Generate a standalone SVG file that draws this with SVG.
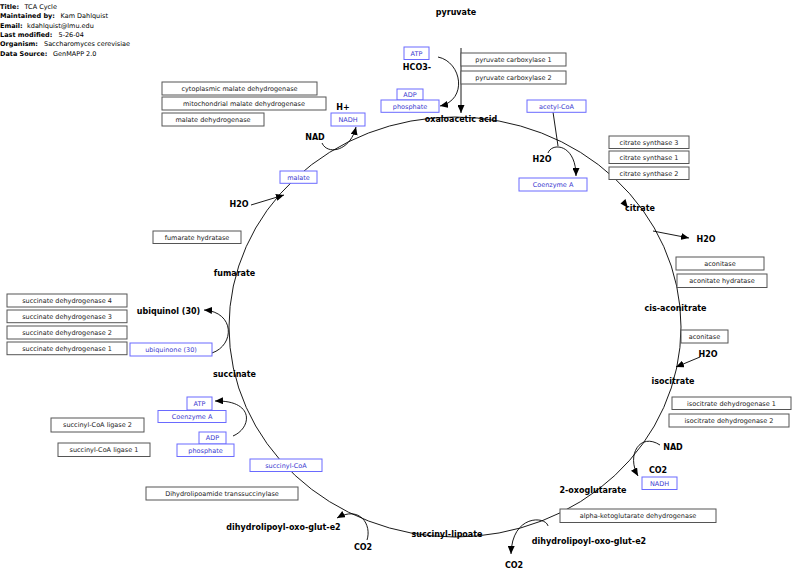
<svg xmlns="http://www.w3.org/2000/svg" width="800" height="581" viewBox="0 0 800 581">
<style>
text{font-family:"DejaVu Sans","Liberation Sans",sans-serif}
.h{font-size:6.5px;fill:#000}
.hb{font-weight:bold}
.m{font-size:8px;font-weight:bold;fill:#000;text-anchor:middle}
.g rect{fill:#fff;stroke:#555;stroke-width:1}
.g text{font-size:6.5px;fill:#222;text-anchor:middle}
.b rect{fill:#fff;stroke:#6a6aff;stroke-width:1}
.b text{font-size:6.5px;fill:#3a3ad0;text-anchor:middle}
.c path,.c line,.c ellipse{fill:none;stroke:#000;stroke-width:0.9}
</style>
<defs>
<marker id="ah" markerUnits="userSpaceOnUse" markerWidth="9" markerHeight="7" refX="8" refY="3.5" orient="auto">
<path d="M0,0 L8,3.5 L0,7 z" fill="#000"/>
</marker>
</defs>
<rect width="800" height="581" fill="#fff"/>
<g id="header">
<text class="h" x="0" y="9"><tspan class="hb">Title:</tspan></text><text class="h" x="24.5" y="9">TCA Cycle</text>
<text class="h" x="0" y="18.3"><tspan class="hb">Maintained by:</tspan></text><text class="h" x="60.5" y="18.3">Kam Dahlquist</text>
<text class="h" x="0" y="27.6"><tspan class="hb">Email:</tspan></text><text class="h" x="27" y="27.6">kdahlquist@lmu.edu</text>
<text class="h" x="0" y="36.9"><tspan class="hb">Last modified:</tspan></text><text class="h" x="58.5" y="36.9">5-26-04</text>
<text class="h" x="0" y="46.2"><tspan class="hb">Organism:</tspan></text><text class="h" x="44" y="46.2">Saccharomyces cerevisiae</text>
<text class="h" x="0" y="55.5"><tspan class="hb">Data Source:</tspan></text><text class="h" x="53" y="55.5">GenMAPP 2.0</text>
</g>
<g id="connectors" class="c">
<ellipse cx="455" cy="327" rx="226" ry="210"/>
<polygon points="628,208 620.5,203.5 625.5,199" fill="#000" stroke="none"/>
<path d="M461,48 L461,113" marker-end="url(#ah)"/>
<path d="M438,57 C462,62 468,100 440,106" marker-end="url(#ah)"/>
<path d="M322,143 C327,155 350,152 356,127" marker-end="url(#ah)"/>
<path d="M553,112 L558,146"/>
<path d="M548,153 C552,142 576,144 576,176" marker-end="url(#ah)"/>
<path d="M653,231 L689,238" marker-end="url(#ah)"/>
<path d="M700,357 L676,367" marker-end="url(#ah)"/>
<path d="M660,445 C640,432 626,455 638,476" marker-end="url(#ah)"/>
<path d="M548,526 C546,516 512,514 511,554" marker-end="url(#ah)"/>
<path d="M367,540 C372,525 360,505 337,518" marker-end="url(#ah)"/>
<path d="M212,353 C235,345 235,312 204,310" marker-end="url(#ah)"/>
<path d="M233,436 C252,428 255,400 215,401" marker-end="url(#ah)"/>
<path d="M251,205 L284,195" marker-end="url(#ah)"/>
</g>
<g id="metabolites">
<text id="pyruvate" class="m" x="456" y="14.5">pyruvate</text>
<text id="hco3" class="m" x="417" y="69.5">HCO3-</text>
<text id="oxaloacetic" class="m" x="461" y="122">oxaloacetic acid</text>
<text id="hplus" class="m" x="343" y="109.5">H+</text>
<text id="nad1" class="m" x="315" y="140">NAD</text>
<text id="h2o1" class="m" x="542" y="162">H2O</text>
<text id="citrate" class="m" x="640" y="211">citrate</text>
<text id="h2o2" class="m" x="706" y="242">H2O</text>
<text id="cisaconitrate" class="m" x="675.5" y="311">cis-aconitrate</text>
<text id="h2o3" class="m" x="708" y="357">H2O</text>
<text id="isocitrate" class="m" x="673" y="384">isocitrate</text>
<text id="nad2" class="m" x="673" y="450">NAD</text>
<text id="co2a" class="m" x="658" y="473">CO2</text>
<text id="oxoglutarate" class="m" x="593" y="493">2-oxoglutarate</text>
<text id="dlog1" class="m" x="589" y="543.5">dihydrolipoyl-oxo-glut-e2</text>
<text id="co2b" class="m" x="514" y="568">CO2</text>
<text id="succlipoate" class="m" x="447" y="537">succinyl-lipoate</text>
<text id="co2c" class="m" x="363" y="549.5">CO2</text>
<text id="dlog2" class="m" x="283.5" y="529.5">dihydrolipoyl-oxo-glut-e2</text>
<text id="succinate" class="m" x="234.5" y="377">succinate</text>
<text id="ubiquinol" class="m" x="168.5" y="313.5">ubiquinol (30)</text>
<text id="fumarate" class="m" x="234.5" y="275.5">fumarate</text>
<text id="h2o4" class="m" x="239" y="207">H2O</text>
</g>
<g id="genes" class="g">
<g id="pc1"><rect x="461" y="53" width="105" height="13"/><text x="513.5" y="61.8">pyruvate carboxylase 1</text></g>
<g id="pc2"><rect x="461" y="71" width="105" height="13"/><text x="513.5" y="79.8">pyruvate carboxylase 2</text></g>
<g id="cmd"><rect x="162" y="82" width="155" height="13"/><text x="239.5" y="90.8">cytoplasmic malate dehydrogenase</text></g>
<g id="mmd"><rect x="162" y="97" width="164" height="13"/><text x="244" y="105.8">mitochondrial malate dehydrogenase</text></g>
<g id="md"><rect x="162" y="113" width="102" height="13"/><text x="213" y="121.8">malate dehydrogenase</text></g>
<g id="cs3"><rect x="609" y="136" width="80" height="12.5"/><text x="649" y="144.6">citrate synthase 3</text></g>
<g id="cs1"><rect x="609" y="151" width="80" height="12.5"/><text x="649" y="159.6">citrate synthase 1</text></g>
<g id="cs2"><rect x="609" y="167" width="80" height="12.5"/><text x="649" y="175.6">citrate synthase 2</text></g>
<g id="aco1"><rect x="676" y="257" width="88" height="13"/><text x="720" y="265.8">aconitase</text></g>
<g id="ah1"><rect x="677" y="274" width="90" height="13.5"/><text x="722" y="283">aconitate hydratase</text></g>
<g id="aco2"><rect x="681" y="330" width="47" height="13"/><text x="704.5" y="338.8">aconitase</text></g>
<g id="idh1"><rect x="672" y="397" width="119" height="12.5"/><text x="731.5" y="405.6">isocitrate dehydrogenase 1</text></g>
<g id="idh2"><rect x="669" y="414" width="120" height="13"/><text x="729" y="422.8">isocitrate dehydrogenase 2</text></g>
<g id="akgd"><rect x="560" y="509" width="156" height="13.5"/><text x="638" y="518">alpha-ketoglutarate dehydrogenase</text></g>
<g id="sdh4"><rect x="7" y="294" width="120" height="13"/><text x="67" y="302.8">succinate dehydrogenase 4</text></g>
<g id="sdh3"><rect x="7" y="310" width="120" height="12.7"/><text x="67" y="318.7">succinate dehydrogenase 3</text></g>
<g id="sdh2"><rect x="7" y="326" width="120" height="13"/><text x="67" y="334.8">succinate dehydrogenase 2</text></g>
<g id="sdh1"><rect x="7" y="342" width="120" height="12.7"/><text x="67" y="350.7">succinate dehydrogenase 1</text></g>
<g id="scl2"><rect x="51" y="418" width="93" height="14"/><text x="97.5" y="427.3">succinyl-CoA ligase 2</text></g>
<g id="scl1"><rect x="58" y="443" width="92" height="13.5"/><text x="104" y="452">succinyl-CoA ligase 1</text></g>
<g id="dlt"><rect x="146" y="487" width="152" height="13"/><text x="222" y="495.8">Dihydrolipoamide transsuccinylase</text></g>
<g id="fh"><rect x="153" y="231" width="88" height="12.5"/><text x="197" y="239.6">fumarate hydratase</text></g>
</g>
<g id="cofactors" class="b">
<g id="atp1"><rect x="404" y="47" width="25" height="12.5"/><text x="416.5" y="55.6">ATP</text></g>
<g id="adp1"><rect x="397" y="89" width="26" height="11"/><text x="410" y="96.8">ADP</text></g>
<g id="phos1"><rect x="381" y="100" width="58" height="12.3"/><text x="410" y="108.5">phosphate</text></g>
<g id="nadh1"><rect x="331" y="113" width="34" height="13"/><text x="348" y="121.8">NADH</text></g>
<g id="acetylcoa"><rect x="527" y="100" width="59" height="12.3"/><text x="556.5" y="108.5">acetyl-CoA</text></g>
<g id="coa1"><rect x="519" y="178" width="68" height="13"/><text x="553" y="186.8">Coenzyme A</text></g>
<g id="nadh2"><rect x="642" y="477" width="35" height="12.5"/><text x="659.5" y="485.6">NADH</text></g>
<g id="malate"><rect x="280" y="171" width="37" height="12.3"/><text x="298.5" y="179.5">malate</text></g>
<g id="ubiquinone"><rect x="130" y="343" width="82" height="13"/><text x="171" y="351.8">ubiquinone (30)</text></g>
<g id="atp2"><rect x="187" y="397" width="25" height="13"/><text x="199.5" y="405.8">ATP</text></g>
<g id="coa2"><rect x="158" y="410.5" width="68" height="12"/><text x="192" y="418.8">Coenzyme A</text></g>
<g id="adp2"><rect x="199" y="432" width="27" height="12"/><text x="212.5" y="440.3">ADP</text></g>
<g id="phos2"><rect x="177" y="444" width="57" height="12.5"/><text x="205.5" y="452.6">phosphate</text></g>
<g id="succinylcoa"><rect x="250" y="459" width="72" height="12.5"/><text x="286" y="467.6">succinyl-CoA</text></g>
</g>
</svg>
